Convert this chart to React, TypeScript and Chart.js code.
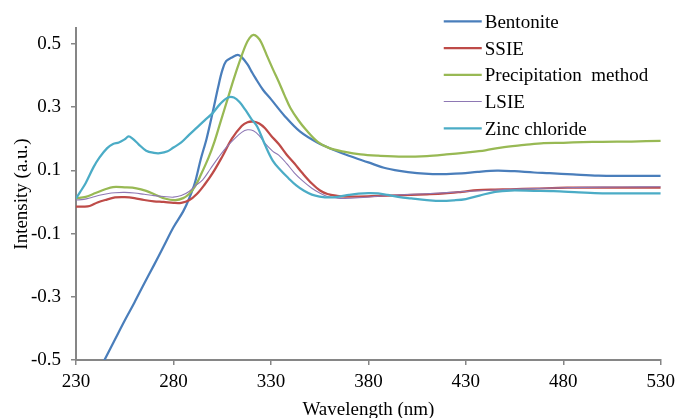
import React, { useEffect, useRef } from "react";
import { Chart, registerables } from "chart.js";

Chart.register(...registerables);

const xTicks = [230, 280, 330, 380, 430, 480, 530];
const yTicks = [-0.5, -0.3, -0.1, 0.1, 0.3, 0.5];

const seriesNames = ["Bentonite", "SSIE", "Precipitation  method", "LSIE", "Zinc chloride"];
const seriesColors = ["#4A7EBB", "#BE4B48", "#98B954", "#8E78B4", "#4BACC6"];
const seriesWidths = [2.25, 2.25, 2.25, 1.1, 2.25];

const bentoniteX = [240, 245, 250, 255, 260, 265, 270, 275, 280, 285, 288, 291, 294, 297, 300, 303, 305, 307, 310, 313, 315, 318, 320, 322, 326, 330, 337, 345, 354, 362, 370, 380, 388, 396, 405, 413, 420, 428, 436, 446, 455, 465, 473, 485, 498, 510, 520, 530];
const bentoniteY = [-0.555, -0.495, -0.435, -0.375, -0.318, -0.258, -0.2, -0.14, -0.08, -0.03, 0.01, 0.06, 0.135, 0.2, 0.28, 0.365, 0.415, 0.445, 0.457, 0.465, 0.458, 0.435, 0.413, 0.392, 0.354, 0.325, 0.272, 0.222, 0.187, 0.165, 0.146, 0.125, 0.108, 0.098, 0.091, 0.088, 0.088, 0.09, 0.095, 0.099, 0.097, 0.093, 0.091, 0.087, 0.083, 0.082, 0.082, 0.082];

const ssieX = [230, 234, 237, 241, 245, 250, 255, 260, 265, 270, 275, 280, 284, 288, 292, 296, 300, 305, 310, 315, 318, 321, 324, 327, 330, 334, 338, 342, 346, 351, 355, 359, 364, 368, 375, 385, 395, 402, 410, 419, 428, 436, 445, 453, 465, 482, 500, 515, 530];
const ssieY = [-0.015, -0.015, -0.013, -0.002, 0.006, 0.014, 0.015, 0.012, 0.006, 0.002, 0, -0.003, -0.003, 0.005, 0.025, 0.055, 0.09, 0.143, 0.2, 0.24, 0.252, 0.254, 0.248, 0.233, 0.21, 0.183, 0.15, 0.122, 0.092, 0.058, 0.037, 0.025, 0.019, 0.017, 0.017, 0.019, 0.021, 0.022, 0.024, 0.027, 0.032, 0.037, 0.039, 0.04, 0.042, 0.045, 0.045, 0.045, 0.045];

const precipX = [230, 235, 240, 245, 249, 255, 261, 266, 271, 276, 281, 285, 288, 291, 294, 298, 301, 304, 308, 311, 314, 317, 319, 321, 323, 325, 328, 331, 334, 337, 340, 344, 348, 354, 360, 368, 376, 385, 398, 410, 420, 430, 440, 448, 460, 470, 480, 490, 500, 515, 530];
const precipY = [0.011, 0.016, 0.028, 0.04, 0.047, 0.046, 0.043, 0.035, 0.022, 0.01, 0.006, 0.012, 0.025, 0.048, 0.085, 0.14, 0.19, 0.25, 0.33, 0.39, 0.445, 0.495, 0.518, 0.528, 0.522, 0.505, 0.462, 0.42, 0.38, 0.337, 0.297, 0.259, 0.228, 0.19, 0.17, 0.158, 0.15, 0.146, 0.143, 0.145, 0.15, 0.156, 0.163, 0.172, 0.18, 0.186, 0.187, 0.189, 0.19, 0.191, 0.193];

const lsieX = [230, 234, 238, 242, 246, 250, 255, 260, 265, 270, 275, 280, 284, 288, 291, 295, 299, 303, 307, 311, 315, 318, 321, 324, 327, 331, 334, 338, 342, 346, 351, 355, 359, 364, 368, 375, 385, 395, 410, 430, 450, 470, 490, 510, 530];
const lsieY = [0.006, 0.008, 0.014, 0.021, 0.026, 0.029, 0.03, 0.028, 0.024, 0.02, 0.017, 0.015, 0.02, 0.033, 0.05, 0.07, 0.105, 0.14, 0.172, 0.198, 0.22, 0.228, 0.225, 0.21, 0.185, 0.16, 0.148, 0.122, 0.092, 0.068, 0.043, 0.028, 0.017, 0.012, 0.011, 0.013, 0.018, 0.022, 0.026, 0.033, 0.039, 0.043, 0.046, 0.047, 0.048];

const zincX = [230, 232, 235, 239, 242, 246, 249, 252, 255, 257, 259, 262, 266, 270, 273, 277, 280, 284, 288, 292, 296, 300, 304, 308, 311, 314, 317, 320, 323, 327, 331, 335, 339, 343, 347, 351, 355, 360, 365, 370, 375, 380, 385, 390, 396, 402, 410, 417, 424, 430, 437, 445, 453, 465, 475, 488, 500, 515, 530];
const zincY = [0.011, 0.03, 0.06, 0.11, 0.14, 0.17, 0.183, 0.188, 0.198, 0.207, 0.2, 0.183, 0.162, 0.155, 0.154, 0.16, 0.172, 0.188, 0.212, 0.235, 0.258, 0.28, 0.31, 0.33, 0.33, 0.315, 0.29, 0.262, 0.238, 0.18, 0.13, 0.1, 0.075, 0.052, 0.035, 0.023, 0.017, 0.014, 0.017, 0.022, 0.026, 0.028, 0.027, 0.022, 0.015, 0.011, 0.006, 0.003, 0.005, 0.009, 0.02, 0.032, 0.036, 0.035, 0.034, 0.03, 0.027, 0.027, 0.027];

const seriesXs = [bentoniteX, ssieX, precipX, lsieX, zincX];
const seriesYs = [bentoniteY, ssieY, precipY, lsieY, zincY];

const FONT = '"Liberation Serif", "Times New Roman", serif';

const overlayPlugin = {
  id: "overlay",
  afterDraw(chart: any) {
    const ctx = chart.ctx;
    const area = chart.chartArea;
    ctx.save();
    ctx.font = `19px ${FONT}`;
    ctx.textBaseline = "alphabetic";
    ctx.fillStyle = "#000";
    const lx = area.right - 217;
    seriesNames.forEach((name, i) => {
      const y = 21.3 + i * 26.75;
      ctx.strokeStyle = seriesColors[i];
      ctx.lineWidth = seriesWidths[i];
      ctx.beginPath();
      ctx.moveTo(lx, y);
      ctx.lineTo(lx + 38, y);
      ctx.stroke();
      ctx.textAlign = "left";
      ctx.fillText(name, lx + 41, y + 6.5);
    });
    ctx.textAlign = "center";
    ctx.fillText("Wavelength (nm)", (area.left + area.right) / 2, 414.5);
    ctx.translate(27, 194);
    ctx.rotate(-Math.PI / 2);
    ctx.fillText("Intensity (a.u.)", 0, 0);
    ctx.restore();
  },
};

export default function App() {
  const ref = useRef<HTMLCanvasElement | null>(null);
  useEffect(() => {
    document.body.style.margin = "0";
    const canvas = ref.current;
    if (!canvas) return;
    const chart = new Chart(canvas, {
      type: "line",
      data: {
        datasets: seriesNames.map((name, i) => ({
          label: name,
          data: seriesXs[i].map((x, j) => ({ x, y: seriesYs[i][j] })),
          borderColor: seriesColors[i],
          backgroundColor: seriesColors[i],
          borderWidth: seriesWidths[i],
          pointRadius: 0,
          tension: 0.35,
          fill: false,
          clip: 0,
          order: 5 - i,
        })),
      },
      options: {
        animation: false,
        responsive: false,
        layout: { padding: { top: 28, right: 14, left: 0, bottom: 0 } },
        plugins: { legend: { display: false }, tooltip: { enabled: false } },
        scales: {
          x: {
            type: "linear",
            min: 230,
            max: 530,
            afterBuildTicks: (s: any) => {
              s.ticks = xTicks.map((v) => ({ value: v }));
            },
            afterFit: (s: any) => {
              s.height = 58;
            },
            grid: { display: true, drawOnChartArea: false, drawTicks: true, tickLength: 5, color: "#868686", lineWidth: 1.5 },
            border: { display: true, color: "#868686", width: 2 },
            ticks: {
              color: "#000",
              font: { family: FONT, size: 19 },
              padding: 6,
              maxRotation: 0,
              autoSkip: false,
              callback: (v: any) => String(v),
            },
          },
          y: {
            type: "linear",
            min: -0.5,
            max: 0.55,
            afterBuildTicks: (s: any) => {
              s.ticks = yTicks.map((v) => ({ value: v }));
            },
            afterFit: (s: any) => {
              s.width = 76;
            },
            grid: { display: true, drawOnChartArea: false, drawTicks: true, tickLength: 5, color: "#868686", lineWidth: 1.5 },
            border: { display: true, color: "#868686", width: 2 },
            ticks: {
              color: "#000",
              font: { family: FONT, size: 19 },
              padding: 10,
              autoSkip: false,
              callback: (v: any) => String(Number(Number(v).toFixed(1))),
            },
          },
        },
      },
      plugins: [overlayPlugin],
    });
    return () => chart.destroy();
  }, []);
  return <canvas ref={ref} width={681} height={418} style={{ display: "block" }} />;
}
